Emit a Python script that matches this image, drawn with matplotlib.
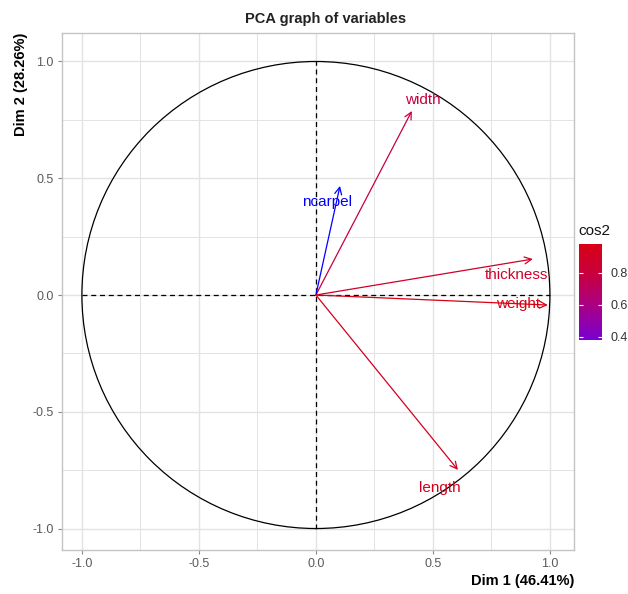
import numpy as np
import matplotlib
matplotlib.use("Agg")
import matplotlib.pyplot as plt
from matplotlib.colors import LinearSegmentedColormap, Normalize
from matplotlib.patches import Circle

plt.rcParams['font.family'] = ['Liberation Sans', 'DejaVu Sans']

# ---- data ----
variables = ["width", "ncarpel", "thickness", "weight", "length"]
dim1 = [0.41, 0.103, 0.927, 0.991, 0.607]
dim2 = [0.788, 0.467, 0.154, -0.043, -0.749]
cos2 = [0.79, 0.22, 0.88, 0.98, 0.93]
xticks = [-1.0, -0.5, 0.0, 0.5, 1.0]
yticks = [-1.0, -0.5, 0.0, 0.5, 1.0]
cbar_ticks = [0.4, 0.6, 0.8]
title = "PCA graph of variables"
xlabel = "Dim 1 (46.41%)"
ylabel = "Dim 2 (28.26%)"

# label offsets in points (layout only)
label_offsets = {"width": (8, 8), "ncarpel": (-9.5, -11.5), "thickness": (-11.5, -11.5),
                 "weight": (-21.5, 0.7), "length": (-13, -13)}

cmap = LinearSegmentedColormap.from_list(
    "cos2", [(0.0, "#0000FF"), (0.21, "#7800D2"), (0.5, "#AA0082"),
             (0.76, "#C8003C"), (1.0, "#D80014")])
norm = Normalize(vmin=min(cos2), vmax=max(cos2))

fig = plt.figure(figsize=(6.28, 5.94), dpi=100)
ax = fig.add_axes([62/628, 1-550/594, (574-62)/628, (550-33)/594])

ax.set_xlim(-1.085, 1.103)
ax.set_ylim(-1.092, 1.122)

# grid
grid_col = "#E3E3E3"
for v in np.arange(-1.0, 1.01, 0.25):
    ax.axvline(v, color=grid_col, lw=1.0 if v % 0.5 == 0 else 0.7, zorder=0)
    ax.axhline(v, color=grid_col, lw=1.0 if v % 0.5 == 0 else 0.7, zorder=0)

for s in ax.spines.values():
    s.set_color("#C4C4C4")
    s.set_linewidth(1.0)

ax.set_xticks(xticks)
ax.set_yticks(yticks)
ax.set_xticklabels([f"{t:.1f}" for t in xticks])
ax.set_yticklabels([f"{t:.1f}" for t in yticks])
ax.tick_params(colors="#888888", labelsize=9, length=3, width=0.8, pad=3)
for lab in ax.get_xticklabels() + ax.get_yticklabels():
    lab.set_color("#5A5A5A")

# circle
ax.add_patch(Circle((0, 0), 1.0, fill=False, color="black", lw=0.9, zorder=2))
# dashed axes
ax.plot([-1, 1], [0, 0], color="black", lw=0.9, ls=(0, (4, 3)), zorder=2)
ax.plot([0, 0], [-1, 1], color="black", lw=0.9, ls=(0, (4, 3)), zorder=2)

# arrows
for name, x, y, c in zip(variables, dim1, dim2, cos2):
    col = cmap(norm(c))
    ax.annotate("", xy=(x, y), xytext=(0, 0),
                arrowprops=dict(arrowstyle="->,head_length=0.5,head_width=0.25",
                                color=col, lw=0.9, shrinkA=0, shrinkB=0),
                zorder=3)
    dx, dy = label_offsets[name]
    ax.annotate(name, xy=(x, y), xytext=(dx, dy), textcoords="offset points",
                color=col, fontsize=11, ha="center", va="center", zorder=4)

# titles
fig.text(326/628, 1-19/594, title, ha="center", va="center",
         fontsize=10.5, fontweight="bold", color="#222222")
ax.set_xlabel(xlabel, fontsize=10.5, fontweight="bold", loc="right", labelpad=3)
ax.set_ylabel(ylabel, fontsize=10.5, fontweight="bold", loc="top", labelpad=3)

# colorbar
cax = fig.add_axes([579/628, 1-340/594, 23/628, (340-244)/594])
sm = plt.cm.ScalarMappable(norm=norm, cmap=cmap)
cb = fig.colorbar(sm, cax=cax, ticks=cbar_ticks)
cb.outline.set_visible(False)
cb.ax.set_ylim(0.38, max(cos2))
cb.ax.tick_params(direction="in", colors="white", length=3, width=0.8,
                  left=True, right=True, labelsize=9, labelcolor="#333333", pad=6)
cb.ax.set_yticklabels([f"{t:.1f}" for t in cbar_ticks])
fig.text(578/628, 1-231/594, "cos2", fontsize=11, ha="left", va="center",
         color="#111111")

fig.savefig("out.png", dpi=100)
